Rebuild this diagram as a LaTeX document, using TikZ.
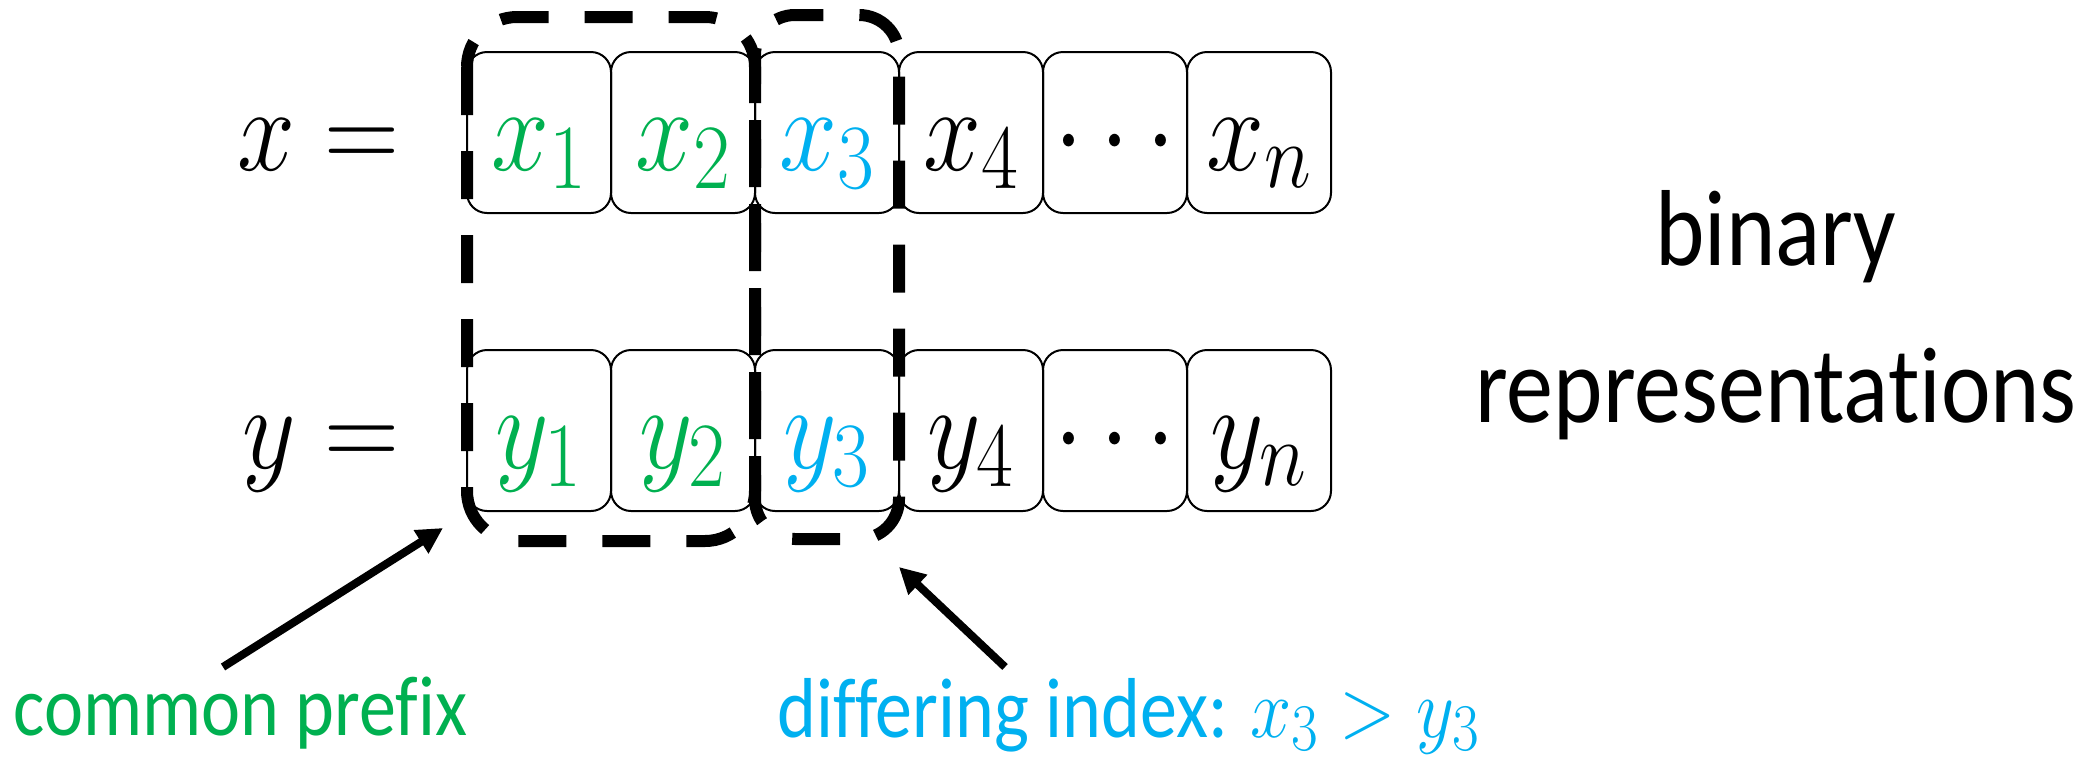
\RequirePackage{fix-cm}
\documentclass[tikz,border=0pt]{standalone}
\usepackage{fontspec}
\newfontfamily\calibri[Ligatures={NoCommon,NoContextual}]{Carlito}
\usetikzlibrary{arrows.meta}
\definecolor{pgreen}{HTML}{00B050}
\definecolor{pblue}{HTML}{00B0F0}
\DeclareMathSizes{52}{52}{40}{30}
\DeclareMathSizes{37}{37}{29}{22}
\newcommand{\vs}[1]{\scalebox{1}[1.15]{#1}}
\begin{document}
\begin{tikzpicture}[x=0.5pt,y=-0.5pt,
  cell/.style={draw, line width=1pt, rounded corners=10pt, inner sep=0pt,
    minimum width=72pt, text height=59pt, text depth=21.5pt, anchor=base,
    font=\fontsize{52}{60}\selectfont},
  rowlbl/.style={anchor=base east, inner sep=0pt, font=\fontsize{52}{60}\selectfont},
  dashbox/.style={draw, line width=6pt, dash pattern=on 24pt off 18pt},
  ptr/.style={line width=4pt, -{Triangle[length=13pt,width=13pt]}},
  lbl/.style={inner sep=0pt, anchor=base west, font=\calibri\fontsize{37}{44}\selectfont},
  big/.style={inner sep=0pt, anchor=base, font=\calibri\fontsize{47}{56}\selectfont}
]
\useasboundingbox (0,0) rectangle (2090,762);

% row labels
\node[rowlbl] (xl) at (400,170) {\vs{$x=$}};
\node[rowlbl] (yl) at (400,468) {\vs{$y=$}};

% x row
\node[cell, text=pgreen] (x1) at (539,170) {\vs{$x_1$}};
\node[cell, text=pgreen] (x2) at (683,170) {\vs{$x_2$}};
\node[cell, text=pblue]  (x3) at (827,170) {\vs{$x_3$}};
\node[cell] (x4) at (971,170) {\vs{$x_4$}};
\node[cell] (xd) at (1115,170) {\vs{$\cdots$}};
\node[cell] (xn) at (1259,170) {\vs{$x_n$}};

% y row
\node[cell, text=pgreen] (y1) at (539,468) {\vs{$y_1$}};
\node[cell, text=pgreen] (y2) at (683,468) {\vs{$y_2$}};
\node[cell, text=pblue]  (y3) at (827,468) {\vs{$y_3$}};
\node[cell] (y4) at (971,468) {\vs{$y_4$}};
\node[cell] (yd) at (1115,468) {\vs{$\cdots$}};
\node[cell] (yn) at (1259,468) {\vs{$y_n$}};

% dashed groups
\draw[dashbox, rounded corners=25pt] (467,17) rectangle (755,541);
\draw[dashbox, rounded corners=20pt] (755,15) rectangle (899,539);

% right text
\node[big] (bin) at (1776,265) {\vs{binary}};
\node[big] (rep) at (1776,422) {\vs{representations}};

% bottom labels
\node[lbl, text=pgreen] (cp) at (13,735) {\vs{common prefix}};
\node[lbl, text=pblue] (di) at (777,737) {\vs{differing index: $x_3 > y_3$}};

% arrows
\coordinate (cpTail) at (223,667);
\coordinate (cpTip) at (443,528);
\coordinate (diTail) at (1005,667);
\coordinate (diTip) at (899,567);
\draw[ptr] (cpTail) -- (cpTip);
\draw[ptr] (diTail) -- (diTip);
\end{tikzpicture}
\end{document}
